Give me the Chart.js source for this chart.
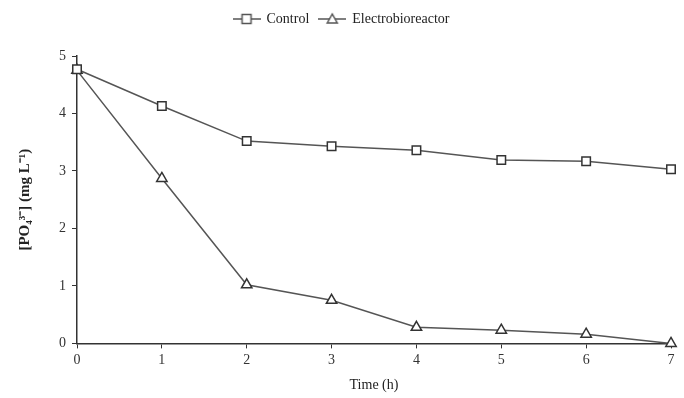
<!DOCTYPE html>
<html>
<head>
<meta charset="utf-8">
<script src="https://cdn.jsdelivr.net/npm/chart.js@4.4.0/dist/chart.umd.min.js"></script>
<style>
  html, body { margin: 0; padding: 0; background: #fff; }
  #wrap { width: 684px; height: 398px; }
</style>
</head>
<body>
<div id="wrap"><canvas id="chart"></canvas></div>
<script>
const hours = [0, 1, 2, 3, 4, 5, 6, 7];
const controlValues = [4.77, 4.13, 3.52, 3.43, 3.36, 3.19, 3.17, 3.03];
const electroValues = [4.75, 2.87, 1.02, 0.75, 0.28, 0.23, 0.16, 0.0];
const seriesNames = ["Control", "Electrobioreactor"];

const lineColor = "#555";
const serif = "'Liberation Serif', 'Times New Roman', serif";

// small legend icons: line with marker in the middle
function legendIcon(style) {
    const c = document.createElement("canvas");
    c.width = 28; c.height = 14;
    const g = c.getContext("2d");
    g.strokeStyle = lineColor;
    g.lineWidth = 1.5;
    g.beginPath(); g.moveTo(0, 7); g.lineTo(28, 7); g.stroke();
    g.fillStyle = "#fff";
    g.beginPath();
    if (style === "rect") {
        g.rect(9.5, 2.5, 9, 9);
    } else {
        g.moveTo(14, 2); g.lineTo(19, 11); g.lineTo(9, 11); g.closePath();
    }
    g.fill(); g.stroke();
    return c;
}
const icons = [legendIcon("rect"), legendIcon("triangle")];

function toPoints(vals) {
    return hours.map((h, i) => ({ x: h, y: vals[i] }));
}

// extra room under the legend
const legendGap = {
    id: "legendGap",
    beforeInit(chart) {
        const fit = chart.legend.fit;
        chart.legend.fit = function () {
            fit.bind(chart.legend)();
            this.height += 20;
        };
    }
};

const ctx = document.getElementById("chart").getContext("2d");
new Chart(ctx, {
    type: "line",
    data: {
        datasets: [
            {
                label: seriesNames[0],
                data: toPoints(controlValues),
                borderColor: lineColor,
                borderWidth: 1.5,
                pointStyle: "rect",
                pointRadius: 6,
                pointBackgroundColor: "#fff",
                pointBorderColor: "#333",
                pointBorderWidth: 1.5,
                tension: 0,
                clip: false
            },
            {
                label: seriesNames[1],
                data: toPoints(electroValues),
                borderColor: lineColor,
                borderWidth: 1.5,
                pointStyle: "triangle",
                pointRadius: 6,
                pointBackgroundColor: "#fff",
                pointBorderColor: "#333",
                pointBorderWidth: 1.5,
                tension: 0,
                clip: false
            }
        ]
    },
    options: {
        responsive: true,
        maintainAspectRatio: false,
        animation: false,
        layout: { padding: { left: 12, right: 13, top: 2, bottom: 0 } },
        plugins: {
            legend: {
                position: "top",
                labels: {
                    usePointStyle: true,
                    pointStyleWidth: 26,
                    color: "#222",
                    font: { family: serif, size: 14 },
                    padding: 10,
                    generateLabels: (chart) => chart.data.datasets.map((d, i) => ({
                        text: d.label,
                        pointStyle: icons[i],
                        datasetIndex: i,
                        fontColor: "#222",
                        lineWidth: 0
                    }))
                }
            },
            tooltip: { enabled: false }
        },
        scales: {
            x: {
                type: "linear",
                min: 0,
                max: 7,
                ticks: { stepSize: 1, color: "#333", font: { family: serif, size: 14 }, padding: 4 },
                grid: { drawOnChartArea: false, drawTicks: true, tickLength: 5, color: "#333" },
                border: { display: true, color: "#333", width: 1.5 },
                title: { display: true, text: "Time (h)", color: "#222", font: { family: serif, size: 14 }, padding: { top: 4 } }
            },
            y: {
                min: 0,
                max: 5,
                ticks: { stepSize: 1, color: "#333", font: { family: serif, size: 14 }, padding: 6 },
                grid: { drawOnChartArea: false, drawTicks: true, tickLength: 5, color: "#333" },
                border: { display: true, color: "#333", width: 1.5 },
                title: { display: true, text: "[PO\u2084\u00B3\u207B] (mg L\u207B\u00B9)", color: "#222", font: { family: serif, size: 15, weight: "bold" }, padding: { bottom: 10 } },
                afterFit: (s) => { s.width = 65; }
            }
        }
    },
    plugins: [legendGap]
});
</script>
</body>
</html>
